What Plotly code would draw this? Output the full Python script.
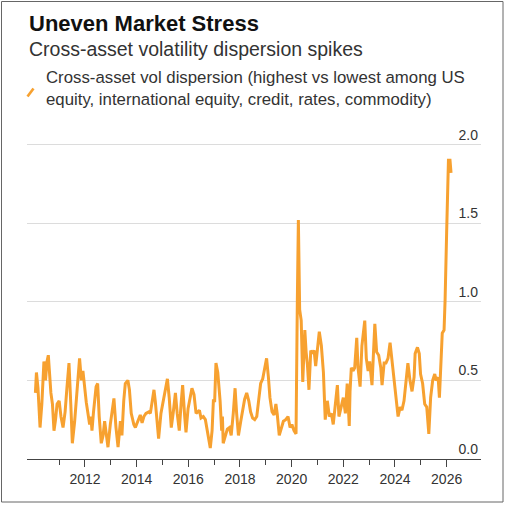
import plotly.graph_objects as go

# Decimal-year positions and cross-asset vol dispersion values
year = [
    2010.08, 2010.12, 2010.18, 2010.26, 2010.33, 2010.41, 2010.47, 2010.53, 2010.58, 2010.64,
    2010.68, 2010.74, 2010.80, 2010.86, 2010.92, 2011.00, 2011.07, 2011.15, 2011.23, 2011.30,
    2011.38, 2011.45, 2011.51, 2011.60, 2011.70, 2011.79, 2011.86, 2011.92, 2012.05, 2012.18,
    2012.23, 2012.27, 2012.33, 2012.43, 2012.49, 2012.55, 2012.63, 2012.70, 2012.76, 2012.81,
    2012.89, 2012.98, 2013.07, 2013.12, 2013.20, 2013.28, 2013.37, 2013.43, 2013.50, 2013.56,
    2013.66, 2013.72, 2013.79, 2013.89, 2013.95, 2014.01, 2014.08, 2014.14, 2014.21, 2014.28,
    2014.36, 2014.47, 2014.53, 2014.59, 2014.67, 2014.72, 2014.79, 2014.85, 2014.94, 2015.03,
    2015.11, 2015.19, 2015.26, 2015.34, 2015.42, 2015.50, 2015.57, 2015.65, 2015.72, 2015.78,
    2015.86, 2015.91, 2015.99, 2016.07, 2016.14, 2016.22, 2016.30, 2016.37, 2016.43, 2016.49,
    2016.58, 2016.66, 2016.72, 2016.79, 2016.85, 2016.92, 2016.97, 2017.02, 2017.07, 2017.14,
    2017.23, 2017.29, 2017.32, 2017.35, 2017.43, 2017.51, 2017.59, 2017.66, 2017.74, 2017.81,
    2017.87, 2017.94, 2018.03, 2018.11, 2018.18, 2018.26, 2018.34, 2018.41, 2018.49, 2018.57,
    2018.65, 2018.72, 2018.80, 2018.88, 2018.94, 2019.03, 2019.10, 2019.16, 2019.24, 2019.32,
    2019.39, 2019.44, 2019.52, 2019.60, 2019.68, 2019.77, 2019.86, 2019.94, 2020.01, 2020.09,
    2020.17, 2020.22, 2020.26, 2020.31, 2020.37, 2020.43, 2020.51, 2020.56, 2020.61, 2020.67,
    2020.74, 2020.80, 2020.87, 2020.93, 2020.99, 2021.07, 2021.15, 2021.23, 2021.30, 2021.38,
    2021.46, 2021.54, 2021.61, 2021.70, 2021.77, 2021.83, 2021.92, 2022.00, 2022.08, 2022.15,
    2022.23, 2022.26, 2022.31, 2022.38, 2022.44, 2022.52, 2022.57, 2022.65, 2022.72, 2022.83,
    2022.89, 2022.96, 2023.02, 2023.11, 2023.22, 2023.29, 2023.37, 2023.45, 2023.50, 2023.58,
    2023.65, 2023.73, 2023.81, 2023.89, 2023.96, 2024.04, 2024.12, 2024.20, 2024.27, 2024.35,
    2024.43, 2024.50, 2024.58, 2024.66, 2024.74, 2024.78, 2024.87, 2024.94, 2024.99, 2025.07,
    2025.15, 2025.23, 2025.31, 2025.38, 2025.46, 2025.54, 2025.59, 2025.67, 2025.72, 2025.79,
    2025.83, 2025.90, 2025.94, 2026.00, 2026.07, 2026.13, 2026.17,
]
vol_dispersion = [
    0.42, 0.55, 0.45, 0.20, 0.35, 0.62, 0.50, 0.62, 0.66, 0.50,
    0.42, 0.35, 0.18, 0.25, 0.35, 0.37, 0.27, 0.20, 0.30, 0.45,
    0.61, 0.35, 0.10, 0.24, 0.45, 0.64, 0.50, 0.56, 0.36, 0.22,
    0.27, 0.18, 0.30, 0.46, 0.48, 0.27, 0.10, 0.15, 0.24, 0.18,
    0.075, 0.22, 0.32, 0.385, 0.20, 0.075, 0.24, 0.15, 0.37, 0.48,
    0.50, 0.44, 0.29, 0.22, 0.20, 0.23, 0.26, 0.28, 0.23, 0.27,
    0.29, 0.30, 0.29, 0.35, 0.44, 0.37, 0.22, 0.13, 0.29, 0.37,
    0.45, 0.51, 0.39, 0.20, 0.30, 0.42, 0.29, 0.18, 0.35, 0.47,
    0.27, 0.17, 0.32, 0.39, 0.45, 0.41, 0.29, 0.30, 0.31, 0.26,
    0.27, 0.25, 0.20, 0.12, 0.07, 0.18, 0.37, 0.37, 0.61, 0.55,
    0.37, 0.18, 0.27, 0.10, 0.15, 0.19, 0.20, 0.15, 0.29, 0.45,
    0.29, 0.15, 0.24, 0.32, 0.38, 0.42, 0.37, 0.30, 0.26, 0.25,
    0.27, 0.37, 0.48, 0.51, 0.56, 0.64, 0.52, 0.39, 0.30, 0.28,
    0.35, 0.29, 0.15, 0.20, 0.24, 0.25, 0.27, 0.20, 0.22, 0.18,
    0.16, 1.00, 1.52, 0.95, 0.88, 0.49, 0.82, 0.68, 0.60, 0.44,
    0.69, 0.67, 0.69, 0.59, 0.69, 0.81, 0.72, 0.55, 0.25, 0.37,
    0.27, 0.29, 0.22, 0.37, 0.47, 0.27, 0.33, 0.39, 0.29, 0.48,
    0.21, 0.43, 0.58, 0.56, 0.58, 0.77, 0.58, 0.46, 0.72, 0.88,
    0.64, 0.56, 0.62, 0.47, 0.86, 0.68, 0.66, 0.58, 0.47, 0.61,
    0.61, 0.64, 0.74, 0.62, 0.52, 0.43, 0.27, 0.33, 0.31, 0.37,
    0.52, 0.61, 0.50, 0.43, 0.52, 0.67, 0.71, 0.67, 0.54, 0.48,
    0.35, 0.33, 0.16, 0.39, 0.50, 0.54, 0.50, 0.52, 0.39, 0.67,
    0.80, 0.82, 1.01, 1.44, 1.90, 1.90, 1.82,
]

major_years = [2012, 2014, 2016, 2018, 2020, 2022, 2024, 2026]
minor_years = [2011, 2013, 2015, 2017, 2019, 2021, 2023, 2025]
y_ticks = [0.0, 0.5, 1.0, 1.5, 2.0]

title_text = "Uneven Market Stress"
subtitle_text = "Cross-asset volatility dispersion spikes"
legend_text = ("Cross-asset vol dispersion (highest vs lowest among US<br>"
               "equity, international equity, credit, rates, commodity)")

ORANGE = "#F7A130"
FONT = "Liberation Sans, Arial, sans-serif"

fig = go.Figure()
fig.add_trace(go.Scatter(
    x=year, y=vol_dispersion, mode="lines",
    line=dict(color=ORANGE, width=3),
    showlegend=False, hoverinfo="skip",
))

# plot area geometry (pixels)
L, R, T, B = 27, 24, 124, 47
W, H = 505, 506
ph = H - T - B
pw = W - L - R


def px_x(px):
    return (px - L) / pw


def px_y(py):
    return (H - B - py) / ph


fig.update_layout(
    width=W, height=H,
    margin=dict(l=L, r=R, t=T, b=B),
    paper_bgcolor="white", plot_bgcolor="white",
    font=dict(family=FONT, color="#333333"),
    xaxis=dict(
        range=[2009.755, 2027.33],
        tickmode="array", tickvals=major_years, ticktext=[str(v) for v in major_years],
        ticks="outside", ticklen=7, tickwidth=1.2, tickcolor="#444444",
        showline=True, linecolor="#444444", linewidth=1.3,
        showgrid=False, zeroline=False,
        tickfont=dict(size=14, color="#333333"),
        minor=dict(tickmode="array", tickvals=minor_years, ticks="outside",
                   ticklen=5, tickwidth=1.2, tickcolor="#444444", showgrid=False),
    ),
    yaxis=dict(
        range=[0, 2.13], side="right",
        tickmode="array", tickvals=y_ticks, tickformat=".1f",
        ticklabelposition="inside top",
        showgrid=True, gridcolor="#dcdcdc", gridwidth=1.3,
        zeroline=False, showline=False, ticks="",
        tickfont=dict(size=14, color="#333333"),
    ),
)

annotations = [
    dict(text="<b>" + title_text + "</b>", x=px_x(27), y=px_y(23), xref="paper", yref="paper",
         xanchor="left", yanchor="middle", showarrow=False,
         font=dict(size=22, color="#111111", family=FONT)),
    dict(text=subtitle_text, x=px_x(27), y=px_y(49), xref="paper", yref="paper",
         xanchor="left", yanchor="middle", showarrow=False,
         font=dict(size=19.5, color="#333333", family=FONT)),
    dict(text=legend_text, x=px_x(44), y=px_y(89), xref="paper", yref="paper",
         xanchor="left", yanchor="middle", align="left", showarrow=False,
         font=dict(size=16.8, color="#333333", family=FONT)),
]
fig.update_layout(annotations=annotations)

fig.add_shape(type="line", xref="paper", yref="paper",
              x0=px_x(27.5), y0=px_y(96.5), x1=px_x(33.5), y1=px_y(88.5),
              line=dict(color=ORANGE, width=2.6))
fig.add_shape(type="rect", xref="paper", yref="paper",
              x0=px_x(1.5), y0=px_y(502), x1=px_x(503), y1=px_y(1.5),
              line=dict(color="#666666", width=1), layer="below")

fig.write_html("out.html")
